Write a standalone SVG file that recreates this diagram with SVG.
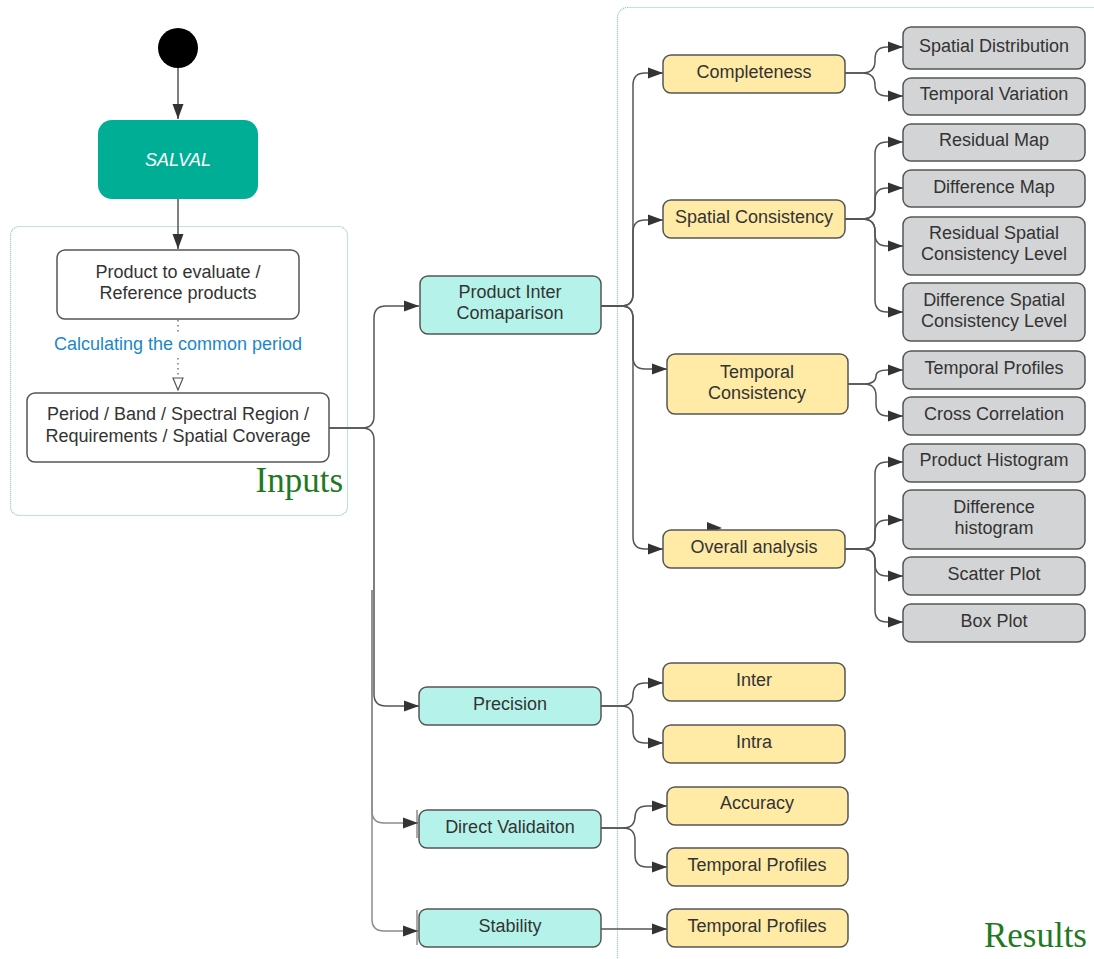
<svg xmlns="http://www.w3.org/2000/svg" width="1094" height="959" viewBox="0 0 1094 959">
<defs>
<marker id="arr" markerUnits="userSpaceOnUse" markerWidth="16" markerHeight="12" refX="15" refY="6" orient="auto"><path d="M0,0.5 L15,6 L0,11.5 z" fill="#333"/></marker>
<marker id="hollow" markerUnits="userSpaceOnUse" markerWidth="14" markerHeight="14" refX="13" refY="6" orient="auto"><path d="M1,1 L13,6 L1,11 z" fill="#fff" stroke="#555" stroke-width="1.2"/></marker>
<style>
.t{font-family:"Liberation Sans",Arial,sans-serif;font-size:18px;fill:#333;text-anchor:middle}
.box{stroke:#555;stroke-width:1.5}
.w{fill:#fff}
.c{fill:#b5f3ea}
.y{fill:#ffeaa6}
.g{fill:#d3d4d6}
.con{fill:none;stroke:#555;stroke-width:1.5}
.lt{fill:none;stroke:#8c8c8c;stroke-width:1.5}
.dot{fill:none;stroke:#777;stroke-width:1.5;stroke-dasharray:1.5 3.5}
.cont{fill:none;stroke:#86c9a6;stroke-width:1.2;stroke-dasharray:1 1}
.lbl{font-family:"Liberation Serif","Times New Roman",serif;font-size:35px;fill:#1f7a1f}
</style>
</defs>
<g id="containers">
<rect class="cont" x="10.5" y="226.5" width="337" height="289" rx="9"/>
<rect class="cont" x="617.5" y="7.5" width="520" height="990" rx="10"/>
<text class="lbl" x="343" y="492" text-anchor="end">Inputs</text>
<text class="lbl" x="1087" y="947" text-anchor="end">Results</text>
</g>
<g id="connectors">
<line class="con" x1="178" y1="68" x2="178" y2="119" marker-end="url(#arr)"/>
<line class="con" x1="178" y1="199" x2="178" y2="249" marker-end="url(#arr)"/>
<line class="dot" x1="178" y1="320" x2="178" y2="333"/>
<line class="dot" x1="178" y1="358" x2="178" y2="390" marker-end="url(#hollow)"/>
<text class="t" x="178" y="350" style="fill:#1b87c9">Calculating the common period</text>
<path class="con" d="M329,428 H362 Q374,428 374,416 V318 Q374,306 386,306 H419" marker-end="url(#arr)"/>
<path class="con" d="M329,428 H362 Q374,428 374,440 V694 Q374,706 386,706 H419" marker-end="url(#arr)"/>
<path class="lt" d="M372,590 V811 Q372,823 384,823 H418" marker-end="url(#arr)"/>
<path class="lt" d="M372,590 V919 Q372,931 384,931 H418" marker-end="url(#arr)"/>
<line x1="417" y1="810" x2="417" y2="838" stroke="#555" stroke-width="1"/>
<line x1="417" y1="910" x2="417" y2="945" stroke="#555" stroke-width="1"/>
<path class="con" d="M601,306 H621 Q633,306 633,294 V85 Q633,73 645,73 H663" marker-end="url(#arr)"/>
<path class="con" d="M601,306 H621 Q633,306 633,294 V232 Q633,220 645,220 H663" marker-end="url(#arr)"/>
<path class="con" d="M601,306 H621 Q633,306 633,318 V357 Q633,369 645,369 H667" marker-end="url(#arr)"/>
<path class="con" d="M601,306 H621 Q633,306 633,318 V537 Q633,549 645,549 H663" marker-end="url(#arr)"/>
<polygon points="707,522 722,528 707,534" fill="#333"/>
<path class="con" d="M845,73 H862 Q875,73 875,61 V59 Q875,47 887,47 H903" marker-end="url(#arr)"/>
<path class="con" d="M845,73 H862 Q875,73 875,85 Q875,96 887,96 H903" marker-end="url(#arr)"/>
<path class="con" d="M845,219 H862 Q875,219 875,207 V154 Q875,142 887,142 H903" marker-end="url(#arr)"/>
<path class="con" d="M845,219 H862 Q875,219 875,207 V200 Q875,188 887,188 H903" marker-end="url(#arr)"/>
<path class="con" d="M845,219 H862 Q875,219 875,231 V234 Q875,246 887,246 H903" marker-end="url(#arr)"/>
<path class="con" d="M845,219 H862 Q875,219 875,231 V300 Q875,312 887,312 H903" marker-end="url(#arr)"/>
<path class="con" d="M848,384 H864 Q876,384 876,376 Q876,370 888,370 H903" marker-end="url(#arr)"/>
<path class="con" d="M848,384 H864 Q876,384 876,396 V404 Q876,416 888,416 H903" marker-end="url(#arr)"/>
<path class="con" d="M845,549 H862 Q875,549 875,537 V474 Q875,462 887,462 H903" marker-end="url(#arr)"/>
<path class="con" d="M845,549 H862 Q875,549 875,537 V532 Q875,520 887,520 H903" marker-end="url(#arr)"/>
<path class="con" d="M845,549 H862 Q875,549 875,561 V564 Q875,576 887,576 H903" marker-end="url(#arr)"/>
<path class="con" d="M845,549 H862 Q875,549 875,561 V610 Q875,622 887,622 H903" marker-end="url(#arr)"/>
<path class="con" d="M601,706 H621 Q633,706 633,694 V695 Q633,683 645,683 H663" marker-end="url(#arr)"/>
<path class="con" d="M601,706 H621 Q633,706 633,718 V731 Q633,743 645,743 H663" marker-end="url(#arr)"/>
<path class="con" d="M601,828 H623 Q635,828 635,816 V818 Q635,806 647,806 H667" marker-end="url(#arr)"/>
<path class="con" d="M601,828 H623 Q635,828 635,840 V855 Q635,867 647,867 H667" marker-end="url(#arr)"/>
<path class="con" d="M601,929 H667" marker-end="url(#arr)"/>
</g>
<g id="start"><circle cx="178" cy="48" r="20" fill="#000"/></g>
<g id="salval"><rect x="98" y="120" width="160" height="79" rx="14" fill="#00ae96"/><text class="t" x="178" y="166" style="fill:#fff;font-style:italic">SALVAL</text></g>
<g id="product"><rect class="box w" x="57" y="250" width="242" height="69" rx="8"/><text class="t" x="178" y="278">Product to evaluate /</text><text class="t" x="178" y="299">Reference products</text></g>
<g id="period"><rect class="box w" x="27" y="393" width="302" height="69" rx="8"/><text class="t" x="178" y="420">Period / Band / Spectral Region /</text><text class="t" x="178" y="442">Requirements / Spatial Coverage</text></g>
<g id="inter-comp"><rect class="box c" x="420" y="276" width="181" height="58" rx="8"/><text class="t" x="510" y="298">Product Inter</text><text class="t" x="510" y="319">Comaparison</text></g>
<g id="precision"><rect class="box c" x="419" y="687" width="182" height="38" rx="8"/><text class="t" x="510" y="710">Precision</text></g>
<g id="direct"><rect class="box c" x="419" y="810" width="182" height="38" rx="8"/><text class="t" x="510" y="833">Direct Validaiton</text></g>
<g id="stability"><rect class="box c" x="419" y="909" width="182" height="38" rx="8"/><text class="t" x="510" y="932">Stability</text></g>
<g id="completeness"><rect class="box y" x="663" y="55" width="182" height="38" rx="8"/><text class="t" x="754" y="78">Completeness</text></g>
<g id="spatial-cons"><rect class="box y" x="663" y="200" width="182" height="38" rx="8"/><text class="t" x="754" y="223">Spatial Consistency</text></g>
<g id="temporal-cons"><rect class="box y" x="667" y="354" width="181" height="60" rx="8"/><text class="t" x="757" y="378">Temporal</text><text class="t" x="757" y="399">Consistency</text></g>
<g id="overall"><rect class="box y" x="663" y="530" width="182" height="38" rx="8"/><text class="t" x="754" y="553">Overall analysis</text></g>
<g id="inter"><rect class="box y" x="663" y="663" width="182" height="38" rx="8"/><text class="t" x="754" y="686">Inter</text></g>
<g id="intra"><rect class="box y" x="663" y="725" width="182" height="38" rx="8"/><text class="t" x="754" y="748">Intra</text></g>
<g id="accuracy"><rect class="box y" x="667" y="787" width="181" height="38" rx="8"/><text class="t" x="757" y="809">Accuracy</text></g>
<g id="tp-direct"><rect class="box y" x="667" y="848" width="181" height="38" rx="8"/><text class="t" x="757" y="871">Temporal Profiles</text></g>
<g id="tp-stability"><rect class="box y" x="667" y="909" width="181" height="38" rx="8"/><text class="t" x="757" y="932">Temporal Profiles</text></g>
<g id="spatial-dist"><rect class="box g" x="903" y="27" width="182" height="42" rx="8"/><text class="t" x="994" y="52">Spatial Distribution</text></g>
<g id="temporal-var"><rect class="box g" x="903" y="78" width="182" height="37" rx="8"/><text class="t" x="994" y="100">Temporal Variation</text></g>
<g id="residual-map"><rect class="box g" x="903" y="124" width="182" height="37" rx="8"/><text class="t" x="994" y="146">Residual Map</text></g>
<g id="difference-map"><rect class="box g" x="903" y="170" width="182" height="37" rx="8"/><text class="t" x="994" y="193">Difference Map</text></g>
<g id="rscl"><rect class="box g" x="903" y="217" width="182" height="58" rx="8"/><text class="t" x="994" y="239">Residual Spatial</text><text class="t" x="994" y="260">Consistency Level</text></g>
<g id="dscl"><rect class="box g" x="903" y="283" width="182" height="58" rx="8"/><text class="t" x="994" y="306">Difference Spatial</text><text class="t" x="994" y="327">Consistency Level</text></g>
<g id="temporal-profiles"><rect class="box g" x="903" y="351" width="182" height="38" rx="8"/><text class="t" x="994" y="374">Temporal Profiles</text></g>
<g id="cross-corr"><rect class="box g" x="903" y="397" width="182" height="38" rx="8"/><text class="t" x="994" y="420">Cross Correlation</text></g>
<g id="product-hist"><rect class="box g" x="903" y="444" width="182" height="38" rx="8"/><text class="t" x="994" y="466">Product Histogram</text></g>
<g id="diff-hist"><rect class="box g" x="903" y="490" width="182" height="59" rx="8"/><text class="t" x="994" y="513">Difference</text><text class="t" x="994" y="534">histogram</text></g>
<g id="scatter"><rect class="box g" x="903" y="557" width="182" height="38" rx="8"/><text class="t" x="994" y="580">Scatter Plot</text></g>
<g id="boxplot"><rect class="box g" x="903" y="604" width="182" height="38" rx="8"/><text class="t" x="994" y="627">Box Plot</text></g>
</svg>
